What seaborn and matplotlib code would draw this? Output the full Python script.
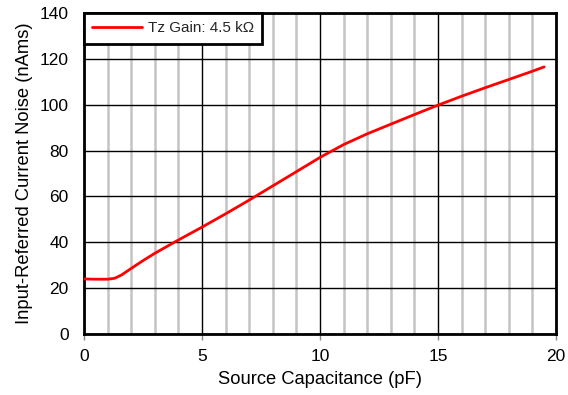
import numpy as np
import pandas as pd
import seaborn as sns
import matplotlib
matplotlib.use("Agg")
import matplotlib.pyplot as plt
from matplotlib.ticker import MultipleLocator

cap_pf = [0, 0.5, 1.0, 1.3, 1.6, 2.0, 2.5, 3.0, 4.0, 5.0, 6.0, 7.0, 8.0, 9.0, 10.0,
          11.0, 12.0, 13.0, 14.0, 15.0, 16.0, 17.0, 18.0, 19.0, 19.5]
noise_na = [24.0, 23.9, 23.9, 24.3, 25.8, 28.6, 32.0, 35.2, 41.0, 46.6, 52.4, 58.4, 64.6,
            70.8, 77.0, 82.6, 87.3, 91.5, 95.7, 99.8, 103.7, 107.4, 111.0, 114.6, 116.5]
series_label = "Tz Gain: 4.5 kΩ"

df = pd.DataFrame({"cap": cap_pf, "noise": noise_na, "series": series_label})

sns.set_theme(style="white")
plt.rcParams['font.family'] = ['Liberation Sans', 'DejaVu Sans']

fig = plt.figure(figsize=(5.68, 3.95), dpi=100)
ax = fig.add_axes([84/568, 1-334/395, (556-84)/568, (334-13)/395])

ax.set_xlim(0, 20)
ax.set_ylim(0, 140)
ax.xaxis.set_major_locator(MultipleLocator(5))
ax.xaxis.set_minor_locator(MultipleLocator(1))
ax.yaxis.set_major_locator(MultipleLocator(20))
ax.grid(which='minor', axis='x', color='#c4c4c4', linewidth=1.8)
ax.grid(which='major', axis='both', color='black', linewidth=1.0)
ax.set_axisbelow(True)

sns.lineplot(data=df, x="cap", y="noise", hue="series", palette=["#ff0000"],
             linewidth=2.0, ax=ax, zorder=3)

for s in ax.spines.values():
    s.set_color('black')
    s.set_linewidth(2.0)

ax.tick_params(axis='both', which='major', labelsize=12.5, colors='black')
ax.tick_params(axis='y', length=0, pad=11)
ax.tick_params(axis='x', which='minor', length=0)
ax.tick_params(axis='x', which='major', bottom=True, color='#888888', length=4,
               width=1, direction='out', pad=7)

ax.set_xlabel("Source Capacitance (pF)", fontsize=13.2, color='black', labelpad=5)
ax.set_ylabel("Input-Referred Current Noise (nAms)", fontsize=13.2, color='black', labelpad=5)

leg = ax.legend(loc='upper left', fontsize=11, frameon=True, fancybox=False,
                borderaxespad=0, handlelength=3.27, handletextpad=0.35, borderpad=0.55)
leg.get_frame().set_edgecolor('black')
leg.get_frame().set_linewidth(2.0)
leg.get_frame().set_alpha(1)

fig.savefig("out.png", dpi=100)
